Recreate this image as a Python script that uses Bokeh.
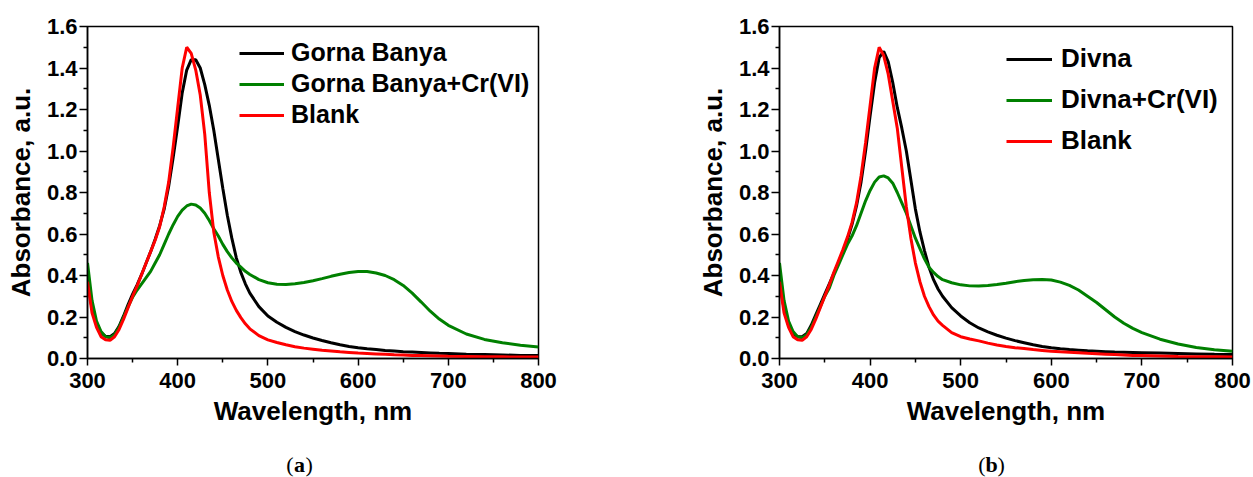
from bokeh.plotting import figure
from bokeh.layouts import row, column
from bokeh.models import Range1d, FixedTicker, Legend, LegendItem, CustomJSTickFormatter
from bokeh.core.properties import value
from bokeh.embed import file_html
from bokeh.resources import INLINE

wavelength = [300, 305, 310, 315, 320, 325, 330, 335, 340, 345, 350, 355, 360, 365, 370, 375,
              380, 385, 390, 395, 400, 405, 410, 415, 420, 425, 430, 435, 440, 445, 450, 455,
              460, 465, 470, 475, 480, 490, 500, 510, 520, 530, 540, 550, 560, 570, 580, 590,
              600, 610, 620, 630, 640, 650, 660, 670, 680, 690, 700, 720, 740, 760, 780, 800]

# Panel (a)
gorna_banya = [0.39, 0.24, 0.165, 0.125, 0.107, 0.105, 0.12, 0.155, 0.205, 0.26, 0.31, 0.355, 0.405, 0.46, 0.515, 0.575,
               0.64, 0.72, 0.83, 0.97, 1.12, 1.28, 1.39, 1.44, 1.44, 1.40, 1.32, 1.22, 1.10, 0.96, 0.82, 0.69,
               0.58, 0.485, 0.415, 0.36, 0.315, 0.25, 0.205, 0.175, 0.15, 0.13, 0.113, 0.099, 0.087, 0.076, 0.066, 0.058,
               0.052, 0.047, 0.043, 0.039, 0.036, 0.033, 0.031, 0.029, 0.027, 0.025, 0.024, 0.021, 0.019, 0.017, 0.015, 0.014]
gorna_banya_cr = [0.46, 0.28, 0.18, 0.13, 0.105, 0.10, 0.115, 0.15, 0.20, 0.25, 0.295, 0.33, 0.36, 0.39, 0.42, 0.46,
                  0.50, 0.55, 0.60, 0.645, 0.685, 0.715, 0.735, 0.744, 0.74, 0.725, 0.70, 0.665, 0.625, 0.59, 0.55, 0.515,
                  0.485, 0.46, 0.44, 0.42, 0.405, 0.38, 0.365, 0.358, 0.357, 0.36, 0.366, 0.375, 0.385, 0.396, 0.406, 0.414,
                  0.419, 0.419, 0.412, 0.40, 0.38, 0.352, 0.315, 0.272, 0.228, 0.19, 0.16, 0.118, 0.092, 0.076, 0.064, 0.055]
blank_a = [0.37, 0.22, 0.15, 0.105, 0.09, 0.088, 0.105, 0.14, 0.19, 0.245, 0.30, 0.35, 0.405, 0.46, 0.515, 0.57,
           0.635, 0.73, 0.85, 1.02, 1.21, 1.40, 1.50, 1.47, 1.39, 1.27, 1.08, 0.80, 0.61, 0.49, 0.40, 0.33,
           0.275, 0.232, 0.197, 0.167, 0.143, 0.11, 0.09, 0.077, 0.066, 0.057, 0.05, 0.045, 0.04, 0.036, 0.032, 0.029,
           0.026, 0.024, 0.022, 0.02, 0.018, 0.017, 0.015, 0.014, 0.013, 0.012, 0.011, 0.01, 0.009, 0.008, 0.007, 0.007]

# Panel (b)
divna = [0.38, 0.24, 0.16, 0.12, 0.105, 0.105, 0.12, 0.16, 0.21, 0.26, 0.31, 0.36, 0.41, 0.46, 0.515, 0.575,
         0.645, 0.735, 0.85, 1.0, 1.17, 1.33, 1.45, 1.48, 1.43, 1.33, 1.21, 1.11, 1.0, 0.86, 0.72, 0.61,
         0.52, 0.44, 0.38, 0.335, 0.30, 0.245, 0.205, 0.172, 0.147, 0.128, 0.112, 0.098, 0.086, 0.076, 0.066, 0.058,
         0.052, 0.047, 0.043, 0.040, 0.037, 0.035, 0.033, 0.031, 0.030, 0.029, 0.028, 0.026, 0.024, 0.022, 0.020, 0.019]
divna_cr = [0.46, 0.28, 0.18, 0.13, 0.105, 0.10, 0.115, 0.15, 0.20, 0.25, 0.30, 0.34, 0.40, 0.45, 0.50, 0.55,
            0.59, 0.64, 0.70, 0.76, 0.81, 0.85, 0.875, 0.88, 0.87, 0.845, 0.80, 0.75, 0.70, 0.64, 0.58, 0.53,
            0.48, 0.44, 0.415, 0.395, 0.38, 0.365, 0.355, 0.35, 0.349, 0.352, 0.357, 0.363, 0.37, 0.376, 0.38, 0.381,
            0.378, 0.368, 0.352, 0.33, 0.30, 0.27, 0.235, 0.20, 0.17, 0.145, 0.125, 0.093, 0.07, 0.053, 0.042, 0.035]
blank_b = [0.37, 0.22, 0.15, 0.105, 0.09, 0.088, 0.105, 0.14, 0.19, 0.245, 0.30, 0.355, 0.415, 0.47, 0.525, 0.585,
           0.655, 0.75, 0.88, 1.04, 1.22, 1.40, 1.50, 1.46, 1.37, 1.24, 1.11, 0.92, 0.73, 0.58, 0.46, 0.37,
           0.30, 0.25, 0.21, 0.18, 0.16, 0.125, 0.105, 0.094, 0.085, 0.074, 0.065, 0.058, 0.052, 0.048, 0.043, 0.039,
           0.035, 0.032, 0.03, 0.028, 0.025, 0.023, 0.021, 0.019, 0.017, 0.015, 0.014, 0.012, 0.01, 0.009, 0.008, 0.007]

x_ticks = [300, 400, 500, 600, 700, 800]
x_minor = [350, 450, 550, 650, 750]
y_ticks = [0.0, 0.2, 0.4, 0.6, 0.8, 1.0, 1.2, 1.4, 1.6]
y_minor = [0.1, 0.3, 0.5, 0.7, 0.9, 1.1, 1.3, 1.5]

panel_a_labels = ["Gorna Banya", "Gorna Banya+Cr(VI)", "Blank"]
panel_b_labels = ["Divna", "Divna+Cr(VI)", "Blank"]
caption_parts = ["(", "a", ")", "(", "b", ")"]

FONT = "Liberation Sans"
SERIF = "Liberation Serif"


def make_panel(series, labels, width, border_left, border_right, legend_loc, legend_font,
               legend_spacing, glyph_w, standoff):
    p = figure(width=width, height=440, output_backend="svg", toolbar_location=None,
               x_range=Range1d(300, 800), y_range=Range1d(0, 1.6),
               min_border_left=border_left, min_border_right=border_right,
               min_border_top=26, min_border_bottom=82)
    p.grid.visible = False
    p.outline_line_color = "black"
    p.outline_line_width = 1.5

    p.xaxis.ticker = FixedTicker(ticks=x_ticks, minor_ticks=x_minor)
    p.yaxis.ticker = FixedTicker(ticks=y_ticks, minor_ticks=y_minor)
    p.yaxis.formatter = CustomJSTickFormatter(code="return tick.toFixed(1);")

    for ax in (p.xaxis[0], p.yaxis[0]):
        ax.axis_line_width = 1.5
        ax.major_tick_line_width = 1.5
        ax.minor_tick_line_width = 1.5
        ax.major_tick_in = 0
        ax.minor_tick_in = 0
        ax.minor_tick_out = 4
        ax.major_label_text_font = FONT
        ax.major_label_text_font_style = "bold"
        ax.major_label_text_font_size = "22px"
        ax.major_label_text_color = "black"
        ax.axis_label_text_font = FONT
        ax.axis_label_text_font_style = "bold"
        ax.axis_label_text_font_size = "26px"
        ax.axis_label_text_color = "black"
    p.xaxis.major_tick_out = 7
    p.yaxis.major_tick_out = 8
    p.xaxis.major_label_standoff = 7
    p.yaxis.major_label_standoff = 2
    p.xaxis.axis_label = "Wavelength, nm"
    p.yaxis.axis_label = "Absorbance, a.u."
    p.xaxis.axis_label_standoff = 5
    p.yaxis.axis_label_standoff = 8

    colors = ["black", "#008000", "#ff0000"]
    items = []
    for ys, lab, c in zip(series, labels, colors):
        r = p.line(wavelength, ys, line_color=c, line_width=3)
        items.append(LegendItem(label=lab, renderers=[r]))

    legend = Legend(items=items, location=legend_loc, orientation="vertical",
                    glyph_width=glyph_w, glyph_height=28, label_height=28,
                    label_standoff=standoff, spacing=legend_spacing, padding=0, margin=0,
                    border_line_alpha=0, background_fill_alpha=0,
                    label_text_font=FONT, label_text_font_style="bold",
                    label_text_font_size=legend_font, label_text_color="black")
    p.add_layout(legend)
    return p


pa = make_panel([gorna_banya, gorna_banya_cr, blank_a], panel_a_labels,
                width=692, border_left=87, border_right=154, legend_loc=(152, 229),
                legend_font="25px", legend_spacing=2, glyph_w=45, standoff=7)
pb = make_panel([divna, divna_cr, blank_b], panel_b_labels,
                width=561, border_left=87, border_right=21, legend_loc=(227, 202),
                legend_font="26px", legend_spacing=10, glyph_w=46, standoff=9)

# caption strip below the two panels
cap = figure(width=1253, height=37, output_backend="svg", toolbar_location=None,
             x_range=Range1d(0, 1253), y_range=Range1d(0, 37),
             min_border=0, x_axis_type=None, y_axis_type=None)
cap.grid.visible = False
cap.outline_line_color = None
centres = [299, 991]
xs, aligns, styles = [], [], []
for c in centres:
    xs += [c - 6, c, c + 6]
    aligns += ["right", "center", "left"]
    styles += ["normal", "bold", "normal"]
for t, x, al, st in zip(caption_parts, xs, aligns, styles):
    cap.text(x=[x], y=[13], text=[t], text_align=al, text_baseline="middle",
             text_font=value(SERIF), text_font_size="22px", text_font_style=st,
             text_color="black")

layout = column(row(pa, pb), cap)
open("out.html", "w").write(file_html(layout, INLINE))
